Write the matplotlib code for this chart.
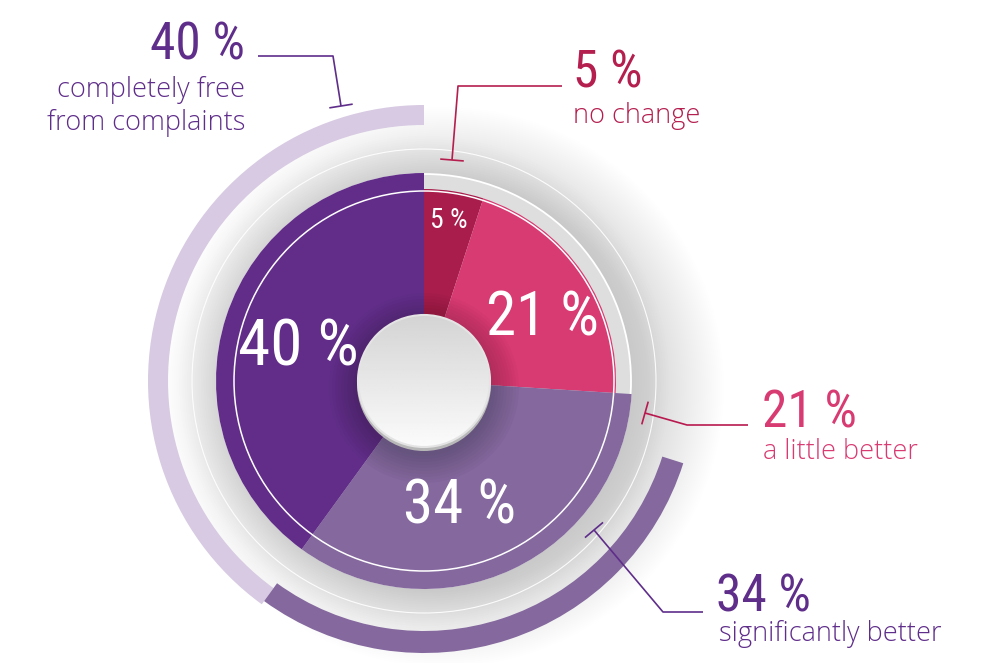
import numpy as np
import matplotlib.pyplot as plt
from matplotlib.patches import Wedge, Circle
from matplotlib import font_manager as fm

# Dados
shares = [5, 21, 34, 40]
captions = ['no change', 'a little better', 'significantly better',
            'completely free\nfrom complaints']
slice_colors = ['#a81d4b', '#d83a72', '#84689e', '#612d89']
text_colors = ['#b41f4f', '#d83a72', '#5f2d8a', '#5f2d8a']
line_colors = ['#b41f4f', '#b8194f', '#5f2d8a', '#5f2d8a']
arc_colors = {3: '#d7cae2', 2: '#84689e'}


# procura uma fonte estreita instalada
def pick_condensed():
    prefs = ['Roboto Condensed', 'Open Sans Condensed', 'Liberation Sans Narrow',
             'Noto Sans', 'DejaVu Sans', 'Open Sans', 'Roboto']
    found = []
    for f in fm.fontManager.ttflist:
        cond = ('ondensed' in f.name or 'Narrow' in f.name or
                str(f.stretch) in ('condensed', 'semi-condensed', 'extra-condensed', '62.5', '75', '87.5')
                or 'Condensed' in f.fname or 'Narrow' in f.fname)
        if cond and f.weight in (400, 'normal', 'regular') and f.style == 'normal':
            found.append(f)
    for p in prefs:
        for f in found:
            if f.name.startswith(p):
                return fm.FontProperties(fname=f.fname)
    if found:
        return fm.FontProperties(fname=found[0].fname)
    return fm.FontProperties(family='DejaVu Sans')


cond_fp = pick_condensed()
names = {f.name for f in fm.fontManager.ttflist}
light = 'Open Sans' if 'Open Sans' in names else 'DejaVu Sans'

cx, cy = 424, 381
fig = plt.figure(figsize=(10, 6.63), dpi=100)
ax = fig.add_axes([0, 0, 1, 1])
ax.axis('off')

# brilho / sombra cinza em volta da pizza
for r in np.linspace(280, 205, 40):
    ax.add_patch(Circle((cx + 20, cy + 6), r, fc='k', ec='none', alpha=0.0028, zorder=1))
for r in np.linspace(245, 207, 15):
    ax.add_patch(Circle((cx, cy), r, fc='k', ec='none', alpha=0.004, zorder=1.5))
ax.add_patch(Circle((cx, cy), 232, fc='none', ec='white', lw=0.8, alpha=0.9, zorder=2))
ax.add_patch(Circle((cx, cy), 207, fc='#dedede', ec='white', lw=1.3, zorder=3))

# arcos externos
cum = np.concatenate([[0], np.cumsum(shares)]) * 3.6 - 90
ax.add_patch(Wedge((cx, cy), 276, cum[3], cum[4], width=20, fc=arc_colors[3], ec='none', zorder=4))
ax.add_patch(Wedge((cx, cy), 272, cum[2] + 14, cum[3], width=22, fc=arc_colors[2], ec='none', zorder=5))

# fatias
radii = [192, 192, 208, 208]
for i in range(len(shares)):
    ax.add_patch(Wedge((cx, cy), radii[i], cum[i], cum[i + 1], fc=slice_colors[i],
                       ec='none', zorder=6))
ax.add_patch(Circle((cx, cy), 190, fc='none', ec='white', lw=1.1, zorder=7))

# sombra do centro
for r in np.linspace(95, 68, 10):
    ax.add_patch(Circle((cx, cy + 7), r, fc='k', ec='none', alpha=0.018, zorder=8))
ax.add_patch(Circle((cx, cy + 3), 67, fc='#b8b8b8', ec='none', zorder=9))
grad = np.linspace(0.83, 0.985, 100).reshape(-1, 1)
img = ax.imshow(grad, cmap='gray', vmin=0, vmax=1, extent=(cx - 66, cx + 66, cy + 66, cy - 66),
                zorder=10, aspect='auto')
img.set_clip_path(Circle((cx, cy), 66, transform=ax.transData))
ax.add_patch(Circle((cx, cy), 66, fc='none', ec='#e4e4e4', lw=1.5, zorder=11))

# rótulos internos
inner_pos = [(449, 221), (543, 318), (460, 507), (298, 347)]
inner_size = [20, 44, 44, 47]
for i, s in enumerate(shares):
    ax.text(*inner_pos[i], f'{s} %', color='white', fontproperties=cond_fp,
            fontsize=inner_size[i], ha='center', va='center', zorder=12)

# chamadas externas
leaders = [[(562, 86), (458, 86), (452, 160)],
           [(748, 425), (687, 425), (645, 413)],
           [(703, 612), (663, 612), (594, 530)],
           [(258, 56), (333, 56), (341, 106)]]
big_pos = [(573, 88, 'left'), (762, 427, 'left'), (716, 612, 'left'), (245, 60, 'right')]
cap_pos = [(573, 123, 'left'), (763, 459, 'left'), (719, 641, 'left'), (245, 130, 'right')]
for i, s in enumerate(shares):
    pts = np.array(leaders[i], dtype=float)
    ax.plot(pts[:, 0], pts[:, 1], color=line_colors[i], lw=1.2, zorder=13,
            solid_capstyle='butt')
    d = pts[-1] - pts[-2]
    n = np.array([-d[1], d[0]]) / np.hypot(*d) * 11
    ax.plot([pts[-1, 0] - n[0], pts[-1, 0] + n[0]], [pts[-1, 1] - n[1], pts[-1, 1] + n[1]],
            color=line_colors[i], lw=1.2, zorder=13)
    x, y, ha = big_pos[i]
    ax.text(x, y, f'{s} %', color=text_colors[i], fontproperties=cond_fp, fontsize=37,
            ha=ha, va='baseline', zorder=13)
    x, y, ha = cap_pos[i]
    ax.text(x, y, captions[i], color=text_colors[i], fontsize=19.5, family=light,
            weight='light', ha=ha, va='baseline', linespacing=1.22, zorder=13,
            multialignment=ha)

ax.set_xlim(0, 1000)
ax.set_ylim(663, 0)
ax.set_aspect('equal')
fig.savefig('out.png', dpi=100, facecolor='white')
